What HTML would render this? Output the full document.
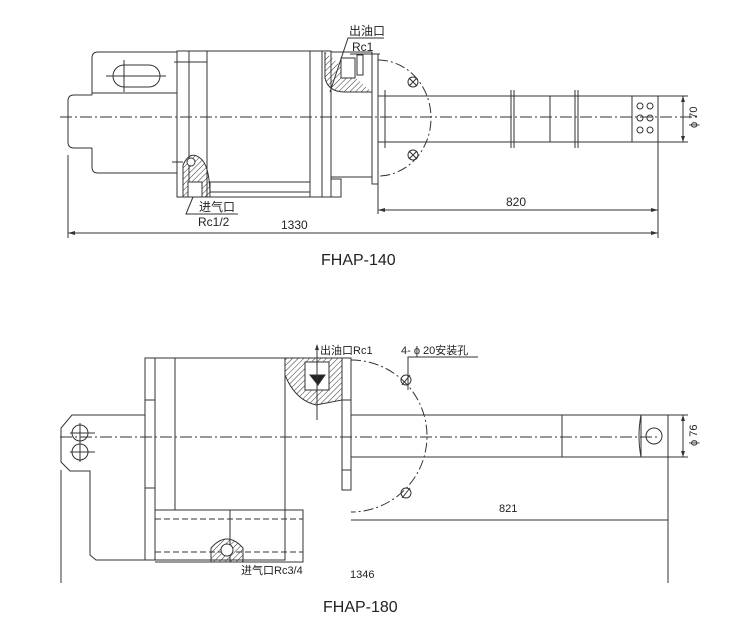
<!DOCTYPE html>
<html><head><meta charset="utf-8"><style>
html,body{margin:0;padding:0;background:#fff;}
svg{display:block;}
text{font-family:"Liberation Sans","Noto Sans CJK SC",sans-serif;fill:#222;}
</style></head><body>
<svg width="733" height="640" viewBox="0 0 733 640" xmlns="http://www.w3.org/2000/svg">
<defs>
<pattern id="h" width="4" height="4" patternUnits="userSpaceOnUse" patternTransform="rotate(45)"><line x1="0" y1="0" x2="0" y2="4" stroke="#333" stroke-width="1"/></pattern>
</defs>
<g stroke="#333" stroke-width="1" fill="none">
<!-- ===== TOP FHAP-140 ===== -->
<path d="M92 95 H74 Q68 95 68 101 V142 Q68 148 74 148 H92"/>
<path d="M92 95 V58 Q92 52 98 52 H177"/>
<path d="M92 148 V167 Q92 173 98 173 H177"/>
<line x1="92" y1="93" x2="177" y2="93"/>
<rect x="113" y="65" width="47" height="22" rx="11"/>
<line x1="124" y1="60" x2="124" y2="92"/><line x1="106" y1="76" x2="166" y2="76"/>
<rect x="177" y="51" width="154" height="146"/>
<line x1="189" y1="51" x2="189" y2="197"/><line x1="207" y1="51" x2="207" y2="197"/>
<line x1="174" y1="62" x2="207" y2="62"/>
<line x1="310" y1="51" x2="310" y2="197"/>
<line x1="322" y1="51" x2="322" y2="197"/>
<path d="M331 52 H372 V177 H331"/>
<path d="M325 52 V78 Q328 92 345 92 H372" fill="url(#h)"/>
<rect x="341" y="58" width="14" height="20" fill="#fff"/>
<rect x="357" y="55" width="6" height="20" fill="#fff"/>
<rect x="372" y="54" width="6" height="130"/>
<rect x="378" y="96" width="280" height="46"/>
<line x1="511" y1="90" x2="511" y2="148"/><line x1="514" y1="90" x2="514" y2="148"/>
<line x1="550" y1="96" x2="550" y2="142"/>
<line x1="575" y1="90" x2="575" y2="148"/><line x1="578" y1="90" x2="578" y2="148"/>
<line x1="632" y1="96" x2="632" y2="142"/>
<line x1="385" y1="90" x2="385" y2="148"/>
<circle cx="640" cy="106" r="3"/><circle cx="650" cy="106" r="3"/>
<circle cx="640" cy="118" r="3"/><circle cx="650" cy="118" r="3"/>
<circle cx="640" cy="130" r="3"/><circle cx="650" cy="130" r="3"/>
<path d="M378 60 A53 58 0 0 1 378 176" stroke-dasharray="10 3 2 3"/>
<circle cx="413" cy="82" r="5"/><path d="M409 78 L417 86 M417 78 L409 86"/>
<circle cx="413" cy="155" r="5"/><path d="M409 151 L417 159 M417 151 L409 159"/>
<path d="M183 197 V165 Q190 150 200 158 Q210 165 210 197" fill="url(#h)"/>
<rect x="188" y="182" width="14" height="15" fill="#fff"/>
<circle cx="191" cy="162" r="4" fill="#fff"/>
<line x1="172" y1="162" x2="183" y2="162"/>
<rect x="210" y="182" width="100" height="10"/>
<rect x="331" y="179" width="10" height="18"/>
<line x1="60" y1="117" x2="700" y2="117" stroke-dasharray="12 3 2 3"/>
<!-- leaders -->
<path d="M330 92 L348 38 H384"/><path d="M350 54 H380"/>
<path d="M193 197 L186 214 H238"/>
<!-- dims -->
<line x1="378" y1="145" x2="378" y2="214"/>
<line x1="658" y1="142" x2="658" y2="238"/>
<line x1="68" y1="155" x2="68" y2="238"/>
<line x1="378" y1="210" x2="658" y2="210"/>
<line x1="68" y1="233" x2="658" y2="233"/>
<line x1="658" y1="96" x2="688" y2="96"/><line x1="658" y1="142" x2="688" y2="142"/>
<line x1="683" y1="96" x2="683" y2="142"/>
</g>
<g fill="#333">
<path d="M378 210 l7 -2 v4z"/><path d="M658 210 l-7 -2 v4z"/>
<path d="M68 233 l7 -2 v4z"/><path d="M658 233 l-7 -2 v4z"/>
<path d="M683 96 l-2 6 h4z"/><path d="M683 142 l-2 -6 h4z"/>
</g>
<text x="349" y="35" font-size="12">出油口</text>
<text x="352" y="51" font-size="12">Rc1</text>
<text x="199" y="211" font-size="12">进气口</text>
<text x="198" y="226" font-size="12">Rc1/2</text>
<text x="506" y="206" font-size="12">820</text>
<text x="281" y="229" font-size="12">1330</text>
<text x="0" y="0" font-size="11" transform="translate(697,128) rotate(-90)">ϕ 70</text>
<text x="321" y="265" font-size="16">FHAP-140</text>

<!-- ===== BOTTOM FHAP-180 ===== -->
<g stroke="#333" stroke-width="1" fill="none">
<path d="M145 415 H72 L61 428 V462 L70 471 H90 V555 L96 560 H155"/>
<circle cx="80" cy="433" r="8"/><circle cx="80" cy="452" r="8"/>
<line x1="70" y1="433" x2="95" y2="433"/><line x1="80" y1="423" x2="80" y2="443"/>
<line x1="70" y1="452" x2="95" y2="452"/><line x1="80" y1="442" x2="80" y2="462"/>
<rect x="145" y="358" width="140" height="202"/>
<line x1="155" y1="358" x2="155" y2="560"/><line x1="175" y1="358" x2="175" y2="510"/>
<line x1="145" y1="400" x2="155" y2="400"/><line x1="145" y1="488" x2="155" y2="488"/>
<path d="M155 510 H303 V562 H155"/>
<line x1="230" y1="510" x2="230" y2="562"/>
<line x1="155" y1="519" x2="303" y2="519" stroke-dasharray="6 3"/>
<line x1="155" y1="552" x2="303" y2="552" stroke-dasharray="6 3"/>
<path d="M211 562 V548 Q227 530 243 548 V562" fill="url(#h)"/>
<circle cx="227" cy="550" r="6" fill="#fff"/>
<path d="M285 358 H342 V400 L316 405 Q295 400 285 375Z" fill="url(#h)"/>
<rect x="305" y="362" width="24" height="28" fill="#fff"/>
<path d="M310 375 H325 L318 385Z" fill="#222"/>
<line x1="317" y1="345" x2="317" y2="420"/>
<rect x="342" y="358" width="9" height="132"/>
<line x1="342" y1="400" x2="351" y2="400"/><line x1="342" y1="470" x2="351" y2="470"/>
<rect x="351" y="415" width="290" height="42"/>
<line x1="562" y1="415" x2="562" y2="457"/>
<path d="M641 415 Q637 436 641 457 H668 V415Z"/>
<circle cx="654" cy="436" r="8"/>
<path d="M351 360 A76 76 0 0 1 351 512" stroke-dasharray="10 3 2 3"/>
<circle cx="406" cy="380" r="5"/><line x1="402" y1="385" x2="410" y2="375"/>
<circle cx="406" cy="493" r="5"/><line x1="402" y1="498" x2="410" y2="488"/>
<path d="M478 357 H408 V390"/>
<line x1="60" y1="437" x2="660" y2="437" stroke-dasharray="12 3 2 3"/>
<line x1="61" y1="470" x2="61" y2="583"/>
<line x1="668" y1="457" x2="668" y2="583"/>
<line x1="351" y1="520" x2="668" y2="520"/>
<line x1="668" y1="415" x2="688" y2="415"/><line x1="668" y1="457" x2="688" y2="457"/>
<line x1="683" y1="415" x2="683" y2="457"/>
</g>
<g fill="#333">
<path d="M317 344 l-2 6 h4z"/>
<path d="M683 415 l-2 6 h4z"/><path d="M683 457 l-2 -6 h4z"/>
</g>
<text x="320" y="354" font-size="11">出油口Rc1</text>
<text x="401" y="354" font-size="11">4- ϕ 20安装孔</text>
<text x="499" y="512" font-size="11">821</text>
<text x="241" y="574" font-size="11">进气口Rc3/4</text>
<text x="350" y="578" font-size="11">1346</text>
<text x="0" y="0" font-size="11" transform="translate(697,446) rotate(-90)">ϕ 76</text>
<text x="323" y="612" font-size="16">FHAP-180</text>
</svg>
</body></html>
